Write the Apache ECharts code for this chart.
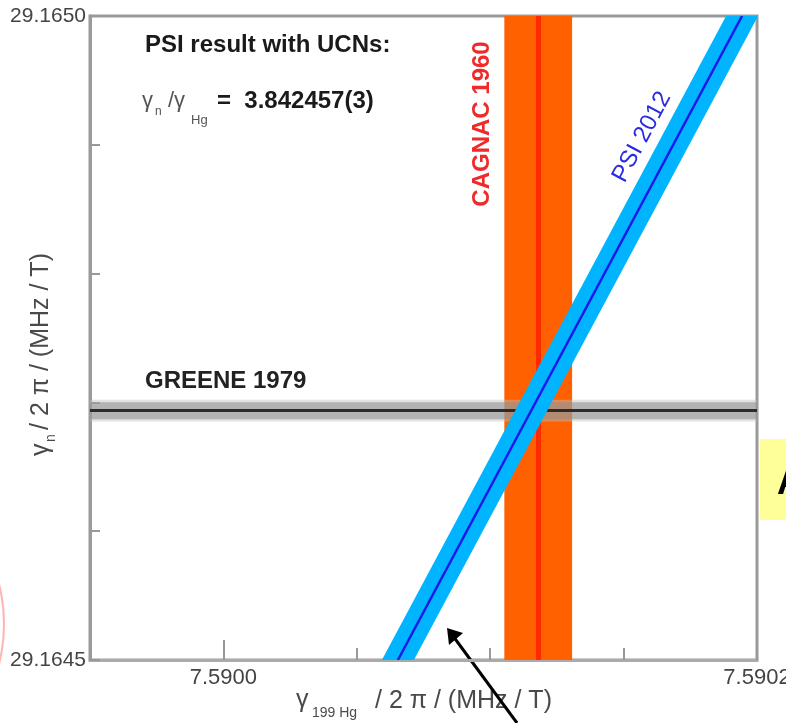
<!DOCTYPE html>
<html>
<head>
<meta charset="utf-8">
<script src="https://cdn.jsdelivr.net/npm/echarts@6/dist/echarts.min.js"></script>
<style>
  html, body { margin: 0; padding: 0; background: #fff; }
  #main { width: 786px; height: 723px; }
</style>
</head>
<body>
<div id="main"></div>
<script>
// axis ranges and the ticks that carry a label
var xRange = [7.58995, 7.5902];
var yRange = [29.1645, 29.165];
var xLabelValues = [7.59, 7.5902];
var yLabelValues = [29.1645, 29.165];
var xMajorTick = [7.59];

// CAGNAC 1960 : gamma(199Hg) / 2pi and its error
var cagnacValue = 7.590118;
var cagnacError = 0.0000127;

// GREENE 1979 : gamma(n) / 2pi, inner and outer error band
var greeneValue = 29.1646936;
var greeneErrors = [0.0000066, 0.0000085];

// PSI 2012 line, read where it meets the bottom and the top of the frame
var psiX = [7.5900654, 7.5901944];
var psiY = [29.1645, 29.165];
var psiHalfWidth = 0.000006;

var FONT = "Liberation Sans, Arial, sans-serif";

function txt(x, y, text, size, color, weight, extra) {
  var el = {
    type: "text",
    x: x,
    y: y,
    style: {
      text: text,
      fill: color,
      fontSize: size,
      fontWeight: weight || "normal",
      fontFamily: FONT,
      textAlign: "left",
      textVerticalAlign: "middle",
    },
  };
  if (extra) {
    for (var k in extra) {
      if (k == "align") el.style.textAlign = extra[k];
      else el[k] = extra[k];
    }
  }
  return el;
}

var chart = echarts.init(document.getElementById("main"));
chart.setOption({
  animation: false,
  backgroundColor: "#fff",
  grid: {
    left: 90,
    right: 29,
    top: 16,
    bottom: 63,
    show: true,
    borderColor: "#9a9a9a",
    borderWidth: 3,
    containLabel: false,
    outerBoundsMode: "none",
  },
  xAxis: [
    {
      type: "value",
      min: xRange[0],
      max: xRange[1],
      interval: 0.00005,
      axisLine: { lineStyle: { color: "#aaaaaa", width: 3 } },
      axisTick: { inside: true, length: 12, lineStyle: { color: "#999", width: 2 } },
      splitLine: { show: false },
      axisLabel: {
        customValues: xLabelValues,
        margin: 7,
        color: "#444",
        fontSize: 22,
        fontFamily: FONT,
        formatter: function (v) {
          return v.toFixed(4);
        },
      },
    },
    {
      type: "value",
      min: xRange[0],
      max: xRange[1],
      position: "bottom",
      axisLine: { show: false },
      axisLabel: { show: false },
      splitLine: { show: false },
      axisTick: {
        inside: true,
        length: 20,
        customValues: xMajorTick,
        lineStyle: { color: "#999", width: 2 },
      },
    },
  ],
  yAxis: {
    type: "value",
    min: yRange[0],
    max: yRange[1],
    interval: 0.0001,
    axisLine: { lineStyle: { color: "#9a9a9a", width: 3 } },
    axisTick: { inside: true, length: 10, lineStyle: { color: "#999", width: 2 } },
    splitLine: { show: false },
    axisLabel: {
      customValues: yLabelValues,
      margin: 4,
      color: "#444",
      fontSize: 21,
      fontFamily: FONT,
      formatter: function (v) {
        return v.toFixed(4);
      },
    },
  },
  series: [
    {
      name: "CAGNAC 1960",
      type: "line",
      data: [],
      markArea: {
        silent: true,
        z: 1,
        itemStyle: { color: "#ff6000" },
        data: [[{ xAxis: cagnacValue - cagnacError }, { xAxis: cagnacValue + cagnacError }]],
      },
      markLine: {
        silent: true,
        precision: 10,
        symbol: "none",
        label: { show: false },
        lineStyle: { color: "#ff2a00", width: 5, type: "solid" },
        data: [{ xAxis: cagnacValue }],
      },
    },
    {
      name: "GREENE 1979",
      type: "line",
      data: [],
      markArea: {
        silent: true,
        z: 2,
        data: [
          [
            { yAxis: greeneValue - greeneErrors[1], itemStyle: { color: "rgba(190,190,190,0.45)" } },
            { yAxis: greeneValue + greeneErrors[1] },
          ],
          [
            { yAxis: greeneValue - greeneErrors[0], itemStyle: { color: "rgba(140,140,140,0.55)" } },
            { yAxis: greeneValue + greeneErrors[0] },
          ],
        ],
      },
      markLine: {
        silent: true,
        precision: 10,
        symbol: "none",
        label: { show: false },
        lineStyle: { color: "#2b2b2b", width: 3, type: "solid" },
        data: [{ yAxis: greeneValue }],
      },
    },
    {
      name: "PSI 2012",
      type: "custom",
      z: 10,
      clip: true,
      data: [[psiX[0], psiY[0], psiX[1], psiY[1]]],
      renderItem: function (params, api) {
        var a = api.coord([api.value(0) - psiHalfWidth, api.value(1)]);
        var b = api.coord([api.value(0) + psiHalfWidth, api.value(1)]);
        var c = api.coord([api.value(2) + psiHalfWidth, api.value(3)]);
        var d = api.coord([api.value(2) - psiHalfWidth, api.value(3)]);
        var p0 = api.coord([api.value(0), api.value(1)]);
        var p1 = api.coord([api.value(2), api.value(3)]);
        return {
          type: "group",
          children: [
            { type: "polygon", shape: { points: [a, b, c, d] }, style: { fill: "#00b4ff" } },
            {
              type: "line",
              shape: { x1: p0[0], y1: p0[1], x2: p1[0], y2: p1[1] },
              style: { stroke: "#1a1ae8", lineWidth: 2.5 },
            },
          ],
        };
      },
    },
  ],
  graphic: [
    // texts in the frame
    txt(145, 45, "PSI result with UCNs:", 24, "#1a1a1a", "bold"),
    txt(142, 101, "γ", 22, "#555"),
    txt(155, 112, "n", 12, "#555"),
    txt(168, 101, "/γ", 22, "#555"),
    txt(191, 120, "Hg", 13, "#555"),
    txt(217, 101, "=  3.842457(3)", 24, "#1a1a1a", "bold"),
    txt(145, 381, "GREENE 1979", 24, "#222", "bold"),
    txt(482, 124, "CAGNAC 1960", 24, "#ee2a2a", "bold", { rotation: Math.PI / 2, align: "center" }),
    txt(642, 137, "PSI 2012", 24, "#2a2ae0", "normal", { rotation: Math.atan2(644, 344), align: "center" }),
    // x axis title
    txt(296, 700, "γ", 25, "#4a4a4a"),
    txt(312, 713, "199 Hg", 14, "#4a4a4a"),
    txt(375, 701, "/ 2 π / (MHz / T)", 25, "#4a4a4a"),
    // y axis title
    {
      type: "group",
      x: 41,
      y: 456,
      rotation: Math.PI / 2,
      children: [
        txt(0, 0, "γ", 25, "#4a4a4a"),
        txt(14, 10, "n", 14, "#4a4a4a"),
        txt(26, 0, "/ 2 π / (MHz / T)", 25, "#4a4a4a"),
      ],
    },
    // pieces of the slide around the chart
    { type: "rect", shape: { x: 760, y: 439, width: 30, height: 81 }, style: { fill: "#ffff99" } },
    txt(777, 484, "A", 36, "#000", "bold"),
    {
      type: "circle",
      shape: { cx: -160, cy: 624, r: 164 },
      style: { fill: "none", stroke: "rgba(255,70,70,0.4)", lineWidth: 2 },
    },
    { type: "line", shape: { x1: 517, y1: 723, x2: 453, y2: 636 }, style: { stroke: "#000", lineWidth: 3 } },
    { type: "polygon", shape: { points: [[447, 628], [449, 645], [463, 633]] }, style: { fill: "#000" } },
  ],
});
</script>
</body>
</html>
